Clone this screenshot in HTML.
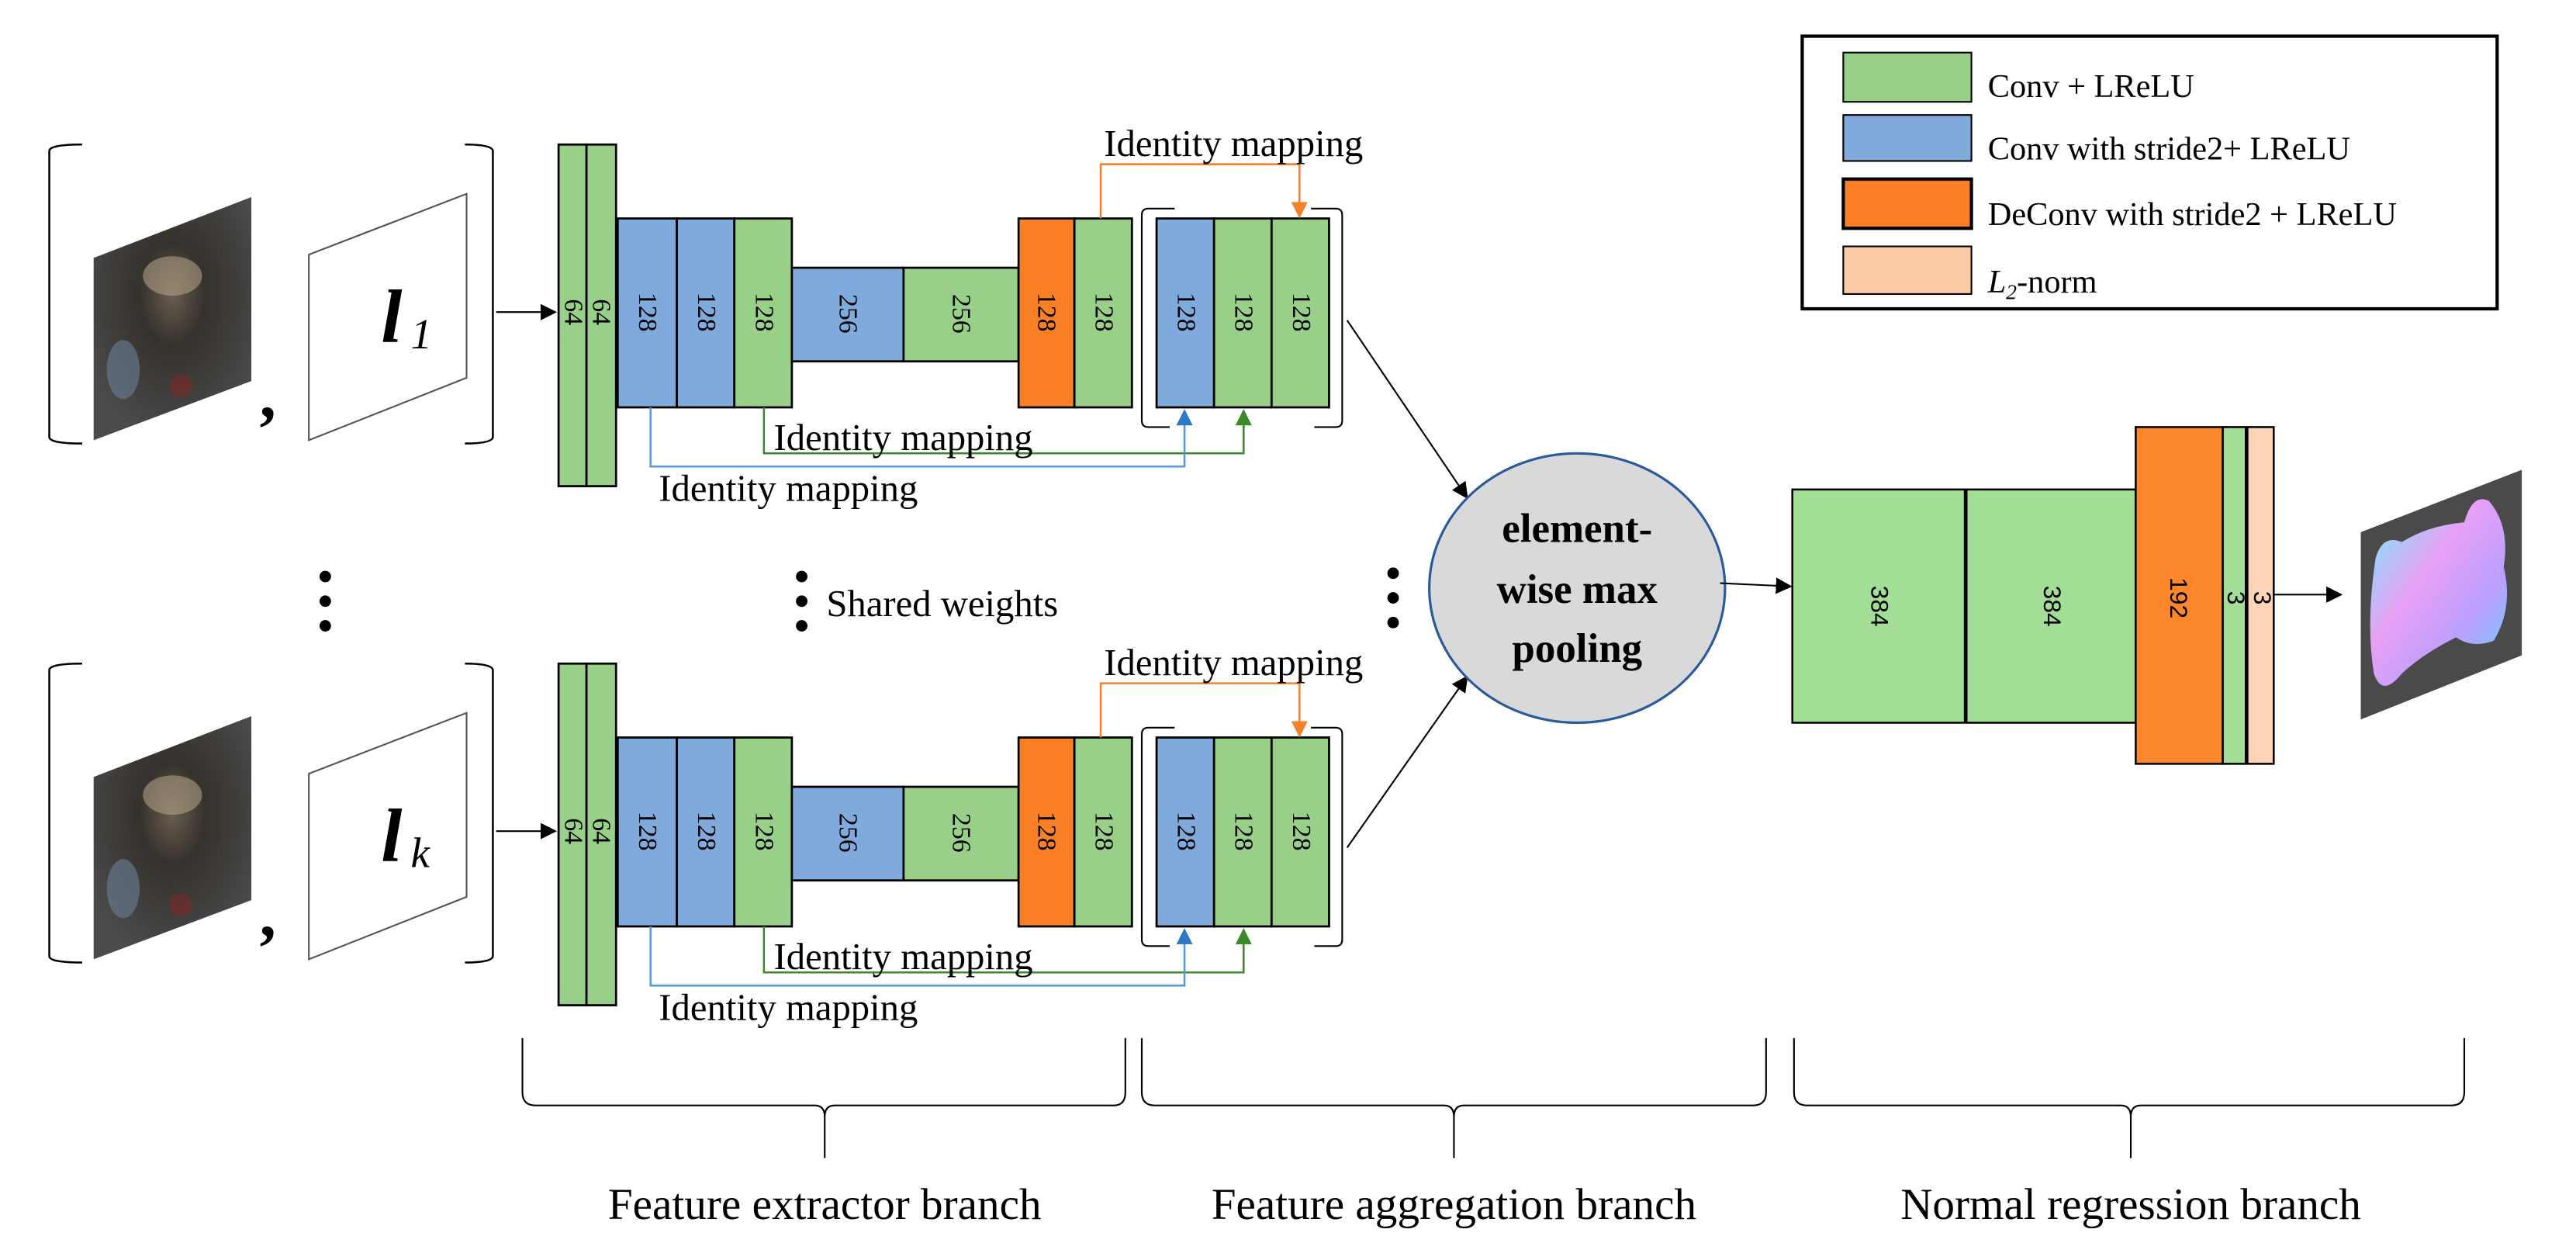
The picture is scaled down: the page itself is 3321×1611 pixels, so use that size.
<!DOCTYPE html>
<html><head><meta charset="utf-8"><style>html,body{margin:0;padding:0;background:#fff}svg{display:block}</style></head>
<body>
<svg width="3321" height="1611" viewBox="0 0 1568 761" preserveAspectRatio="none" xmlns="http://www.w3.org/2000/svg" font-family="Liberation Serif, serif">
<defs>
<marker id="ak" markerWidth="10" markerHeight="10" refX="9" refY="5" orient="auto" markerUnits="userSpaceOnUse"><path d="M0,0 L10,5 L0,10 z" fill="#000"/></marker>
<marker id="ao" markerWidth="10" markerHeight="10" refX="9" refY="5" orient="auto" markerUnits="userSpaceOnUse"><path d="M0,0 L10,5 L0,10 z" fill="#f5802a"/></marker>
<marker id="ab" markerWidth="10" markerHeight="10" refX="9" refY="5" orient="auto" markerUnits="userSpaceOnUse"><path d="M0,0 L10,5 L0,10 z" fill="#2f78c8"/></marker>
<marker id="ag" markerWidth="10" markerHeight="10" refX="9" refY="5" orient="auto" markerUnits="userSpaceOnUse"><path d="M0,0 L10,5 L0,10 z" fill="#3a8a2a"/></marker>
<radialGradient id="img" cx="0.5" cy="0.4" r="0.6"><stop offset="0" stop-color="#6a5e50"/><stop offset="0.35" stop-color="#35312c"/><stop offset="1" stop-color="#4a4a4a"/></radialGradient>
<linearGradient id="nm" x1="0" y1="0" x2="1" y2="1"><stop offset="0" stop-color="#70f0ff"/><stop offset="0.4" stop-color="#e8a0f5"/><stop offset="0.7" stop-color="#b8a0ff"/><stop offset="1" stop-color="#60d8f8"/></linearGradient>
<g id="row">
  <path d="M50,88 Q30,88 30,92 V266 Q30,270 50,270" fill="none" stroke="#000" stroke-width="1.2"/>
  <polygon points="57,157 153,120 153,232 57,268" fill="url(#img)"/>
  <ellipse cx="105" cy="168" rx="18" ry="12" fill="#b8a88a" opacity="0.55"/>
  <ellipse cx="75" cy="225" rx="10" ry="18" fill="#6c7e98" opacity="0.6"/>
  <ellipse cx="110" cy="235" rx="7" ry="7" fill="#7a2a2a" opacity="0.6"/>
  <text x="158" y="254" font-size="40" font-weight="bold">,</text>
  <polygon points="188,155 284,118 284,230 188,268" fill="#fff" stroke="#555" stroke-width="1"/>
  <path d="M283,88 Q300,88 300,92 V266 Q300,270 283,270" fill="none" stroke="#000" stroke-width="1.2"/>
  <line x1="302" y1="190" x2="338" y2="190" stroke="#000" stroke-width="1" marker-end="url(#ak)"/>
  <g stroke="#000" stroke-width="1.3">
    <rect x="340" y="88" width="17" height="208" fill="#98d08a"/>
    <rect x="357" y="88" width="18" height="208" fill="#98d08a"/>
    <rect x="376" y="133" width="36" height="115" fill="#80a9dc"/>
    <rect x="412" y="133" width="35" height="115" fill="#80a9dc"/>
    <rect x="447" y="133" width="35" height="115" fill="#98d08a"/>
    <rect x="482" y="163" width="68" height="57" fill="#80a9dc"/>
    <rect x="550" y="163" width="70" height="57" fill="#98d08a"/>
    <rect x="620" y="133" width="34" height="115" fill="#fb7f24"/>
    <rect x="654" y="133" width="35" height="115" fill="#98d08a"/>
    <rect x="704" y="133" width="35" height="115" fill="#80a9dc"/>
    <rect x="739" y="133" width="35" height="115" fill="#98d08a"/>
    <rect x="774" y="133" width="35" height="115" fill="#98d08a"/>
  </g>
  <path d="M715,127 H699 Q695,127 695,131 V256 Q695,260 699,260 H712" fill="none" stroke="#000" stroke-width="1"/>
  <path d="M798,127 H813 Q817,127 817,131 V256 Q817,260 813,260 H800" fill="none" stroke="#000" stroke-width="1"/>
  <g font-size="16" text-anchor="middle">
    <text transform="translate(344,190) rotate(90)">64</text>
    <text transform="translate(361,190) rotate(90)">64</text>
    <text transform="translate(389,190) rotate(90)">128</text>
    <text transform="translate(425,190) rotate(90)">128</text>
    <text transform="translate(460,190) rotate(90)">128</text>
    <text transform="translate(511,191) rotate(90)">256</text>
    <text transform="translate(580,191) rotate(90)">256</text>
    <text transform="translate(632,190) rotate(90)">128</text>
    <text transform="translate(667,190) rotate(90)">128</text>
    <text transform="translate(717,190) rotate(90)">128</text>
    <text transform="translate(752,190) rotate(90)">128</text>
    <text transform="translate(787,190) rotate(90)">128</text>
  </g>
  <polyline points="670,133 670,100 791,100 791,132" fill="none" stroke="#f5802a" stroke-width="1.2" marker-end="url(#ao)"/>
  <text x="672" y="95" font-size="23">Identity mapping</text>
  <polyline points="465,248 465,276 757,276 757,250" fill="none" stroke="#3a8a2a" stroke-width="1.2" marker-end="url(#ag)"/>
  <text x="471" y="274" font-size="23">Identity mapping</text>
  <polyline points="396,248 396,284 721,284 721,250" fill="none" stroke="#5a96dc" stroke-width="1.2" marker-end="url(#ab)"/>
  <text x="401" y="305" font-size="23">Identity mapping</text>
</g>
</defs>
<use href="#row"/>
<text x="232" y="208" font-size="46" font-weight="bold" font-style="italic">l</text><text x="250" y="212" font-size="26" font-style="italic">1</text>
<use href="#row" transform="translate(0,316)"/>
<text x="232" y="524" font-size="46" font-weight="bold" font-style="italic">l</text><text x="250" y="528" font-size="26" font-style="italic">k</text>

<g fill="#000">
<circle cx="198" cy="351" r="3.5"/><circle cx="198" cy="366" r="3.5"/><circle cx="198" cy="381" r="3.5"/>
<circle cx="488" cy="351" r="3.5"/><circle cx="488" cy="366" r="3.5"/><circle cx="488" cy="381" r="3.5"/>
<circle cx="848" cy="349" r="3.5"/><circle cx="848" cy="364" r="3.5"/><circle cx="848" cy="379" r="3.5"/>
</g>
<text x="503" y="375" font-size="23">Shared weights</text>

<line x1="820" y1="195" x2="893" y2="303" stroke="#000" stroke-width="1" marker-end="url(#ak)"/>
<line x1="820" y1="516" x2="893" y2="412" stroke="#000" stroke-width="1" marker-end="url(#ak)"/>
<ellipse cx="960" cy="358" rx="90" ry="82" fill="#d9d9d9" stroke="#2a5a9a" stroke-width="1.5"/>
<g font-size="25" font-weight="bold" text-anchor="middle">
<text x="960" y="330">element-</text><text x="960" y="367">wise max</text><text x="960" y="403">pooling</text>
</g>
<line x1="1047" y1="355" x2="1090" y2="357" stroke="#000" stroke-width="1" marker-end="url(#ak)"/>
<g stroke="#000" stroke-width="1.2">
<rect x="1091" y="298" width="105" height="142" fill="#a3de96"/>
<rect x="1197" y="298" width="103" height="142" fill="#a3de96"/>
<rect x="1300" y="260" width="53" height="205" fill="#fd872c"/>
<rect x="1353" y="260" width="14" height="205" fill="#a3de96"/>
<rect x="1368" y="260" width="16" height="205" fill="#fdd5b6"/>
</g>
<g font-size="15" text-anchor="middle" font-family="Liberation Sans, sans-serif">
<text transform="translate(1139,369) rotate(90)">384</text>
<text transform="translate(1244,369) rotate(90)">384</text>
<text transform="translate(1321,364) rotate(90)">192</text>
<text transform="translate(1356,364) rotate(90)">3</text>
<text transform="translate(1372,364) rotate(90)">3</text>
</g>
<line x1="1384" y1="362" x2="1425" y2="362" stroke="#000" stroke-width="1" marker-end="url(#ak)"/>
<polygon points="1437,324 1535,286 1535,399 1437,438" fill="#4a4a4a"/>
<path d="M1446,340 Q1450,325 1462,330 Q1478,320 1500,318 Q1505,300 1515,305 Q1528,320 1524,345 Q1530,370 1518,390 Q1505,395 1495,388 Q1475,398 1462,410 Q1450,425 1445,410 Q1440,380 1446,340 z" fill="url(#nm)"/>

<rect x="1097" y="22" width="423" height="166" fill="#fff" stroke="#000" stroke-width="2"/>
<g stroke="#000" stroke-width="1">
<rect x="1122" y="32" width="78" height="30" fill="#98d08a"/>
<rect x="1122" y="70" width="78" height="28" fill="#80a9dc"/>
<rect x="1122" y="109" width="78" height="30" fill="#fb7f24" stroke-width="2"/>
<rect x="1122" y="150" width="78" height="29" fill="#fdcaa6"/>
</g>
<g font-size="20">
<text x="1210" y="59">Conv + LReLU</text>
<text x="1210" y="97">Conv with stride2+ LReLU</text>
<text x="1210" y="137">DeConv with stride2 + LReLU</text>
<text x="1210" y="178"><tspan font-style="italic">L</tspan><tspan font-size="13" font-style="italic" dy="4">2</tspan><tspan dy="-4">-norm</tspan></text>
</g>

<g fill="none" stroke="#000" stroke-width="1">
<path d="M318,632 V665 Q318,673 326,673 H496 Q502,673 502,680 V705 M502,680 Q502,673 508,673 H678 Q685,673 685,665 V632"/>
<path d="M695,632 V665 Q695,673 703,673 H879 Q885,673 885,680 V705 M885,680 Q885,673 891,673 H1067 Q1075,673 1075,665 V632"/>
<path d="M1092,632 V665 Q1092,673 1100,673 H1291 Q1297,673 1297,680 V705 M1297,680 Q1297,673 1303,673 H1492 Q1500,673 1500,665 V632"/>
</g>
<g font-size="27" text-anchor="middle">
<text x="502" y="742">Feature extractor branch</text>
<text x="885" y="742">Feature aggregation branch</text>
<text x="1297" y="742">Normal regression branch</text>
</g>
</svg>
</body></html>
